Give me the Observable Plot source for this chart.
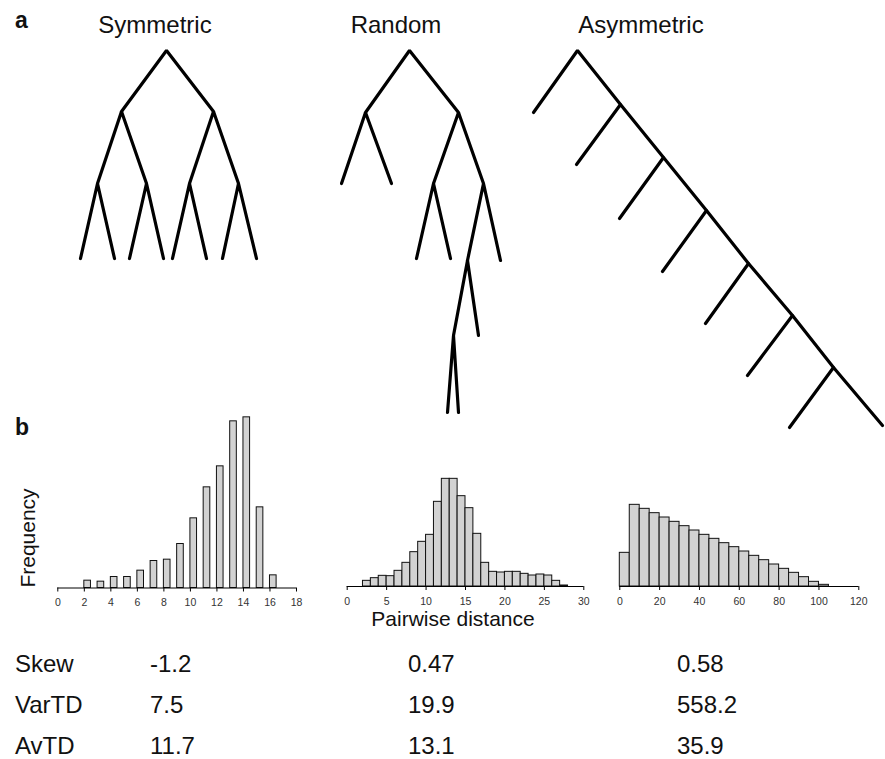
<!DOCTYPE html>
<html><head><meta charset="utf-8">
<script src="https://cdn.jsdelivr.net/npm/d3@7"></script>
<script src="https://cdn.jsdelivr.net/npm/@observablehq/plot@0.6"></script>
<style>
html,body{margin:0;padding:0;background:#fff;}
#fig{position:relative;width:885px;height:759px;overflow:hidden;background:#fff;font-family:"Liberation Sans",Arial,Helvetica,sans-serif;}
#fig > svg{position:absolute;max-width:none !important;}
</style></head><body><div id="fig"></div>
<script>
// ---------- Tree data: [id, parent, x, depth] in branch units (depth grows downward from root)
const symmetricNodes = [
  ["r", null, 0, 0],
  ["a", "r", -4.5, 6.1], ["b", "r", 4.7, 6.1],
  ["aa", "a", -6.9, 13.3], ["ab", "a", -2.0, 13.3], ["ba", "b", 2.3, 13.3], ["bb", "b", 7.2, 13.3],
  ["aa1", "aa", -8.6, 20.8], ["aa2", "aa", -5.2, 20.8], ["ab1", "ab", -3.7, 20.8], ["ab2", "ab", -0.3, 20.8],
  ["ba1", "ba", 0.6, 20.8], ["ba2", "ba", 4.0, 20.8], ["bb1", "bb", 5.6, 20.8], ["bb2", "bb", 9.0, 20.8]
];
const randomNodes = [
  ["r", null, 0, 0],
  ["a", "r", -4.4, 6.2], ["b", "r", 4.9, 6.2],
  ["a1", "a", -6.8, 13.3], ["a2", "a", -1.8, 13.3],
  ["ba", "b", 2.4, 13.3], ["bb", "b", 7.4, 13.3],
  ["ba1", "ba", 0.7, 20.8], ["ba2", "ba", 4.1, 20.8],
  ["bba", "bb", 5.8, 21.0], ["bb2", "bb", 9.1, 21.0],
  ["bbaa", "bba", 4.4, 28.5], ["bba2", "bba", 6.9, 28.5],
  ["bbaa1", "bbaa", 3.8, 36.2], ["bbaa2", "bbaa", 4.9, 36.2]
];
const asymmetricNodes = [
  ["r", null, 0, 0],
  ["t0", "r", -4.4, 6.2], ["s1", "r", 4.3, 5.4],
  ["t1", "s1", -0.1, 11.4], ["s2", "s1", 8.6, 10.7],
  ["t2", "s2", 4.2, 16.8], ["s3", "s2", 12.9, 16.0],
  ["t3", "s3", 8.5, 22.1], ["s4", "s3", 17.1, 21.3],
  ["t4", "s4", 12.8, 27.3], ["s5", "s4", 21.5, 26.5],
  ["t5", "s5", 17.0, 32.5], ["s6", "s5", 25.6, 31.7],
  ["t6", "s6", 21.2, 37.7], ["t7", "s6", 30.5, 37.5]
];
const treeNames = ["Symmetric", "Random", "Asymmetric"];

// ---------- Histogram data
const symDistance = [2, 3, 4, 5, 6, 7, 8, 9, 10, 11, 12, 13, 14, 15, 16];
const symFrequency = [22, 19, 33, 33, 52, 81, 85, 132, 209, 302, 365, 500, 512, 242, 38];
const symBarWidth = 0.5;
const symTicks = [0, 2, 4, 6, 8, 10, 12, 14, 16, 18];

const randDistance = [2, 3, 4, 5, 6, 7, 8, 9, 10, 11, 12, 13, 14, 15, 16, 17, 18, 19, 20, 21, 22, 23, 24, 25, 26, 27];
const randFrequency = [17, 25, 32, 31, 47, 71, 103, 134, 155, 254, 323, 323, 271, 235, 158, 71, 44, 42, 44, 44, 38, 33, 36, 33, 17, 3];
const randBarWidth = 1;
const randTicks = [0, 5, 10, 15, 20, 25, 30];

const asymDistance = [0, 5, 10, 15, 20, 25, 30, 35, 40, 45, 50, 55, 60, 65, 70, 75, 80, 85, 90, 95, 100];
const asymFrequency = [101, 245, 233, 220, 207, 194, 181, 168, 155, 143, 130, 118, 105, 92, 79, 66, 53, 41, 28, 14, 5];
const asymBarWidth = 5;
const asymTicks = [0, 20, 40, 60, 80, 100, 120];

// ---------- Statistics table
const statNames = ["Skew", "VarTD", "AvTD"];
const skewValues = ["-1.2", "0.47", "0.58"];
const varTDValues = ["7.5", "19.9", "558.2"];
const avTDValues = ["11.7", "13.1", "35.9"];

const fig = document.getElementById("fig");
const FONT = '"Liberation Sans",Arial,Helvetica,sans-serif';

// ---------- Trees
function treePlot(rows, rootX, rootY) {
  const nodes = rows.map(([id, parent, x, y]) => ({id, parent, x, y}));
  const pts = [];
  for (const n of nodes) {
    const kids = nodes.filter(c => c.parent === n.id).sort((a, b) => a.x - b.x);
    if (kids.length === 2) {
      pts.push({g: n.id, x: kids[0].x, y: kids[0].y});
      pts.push({g: n.id, x: n.x, y: n.y});
      pts.push({g: n.id, x: kids[1].x, y: kids[1].y});
    }
  }
  const k = 10, pad = 1;
  const x0 = d3.min(nodes, d => d.x) - pad, x1 = d3.max(nodes, d => d.x) + pad;
  const y0 = -pad, y1 = d3.max(nodes, d => d.y) + pad;
  const svg = Plot.plot({
    width: (x1 - x0) * k, height: (y1 - y0) * k, margin: 0,
    x: {domain: [x0, x1], axis: null},
    y: {domain: [y0, y1], reverse: true, axis: null},
    marks: [
      Plot.line(pts, {x: "x", y: "y", z: "g", stroke: "#000", strokeWidth: 3.2, strokeLinejoin: "miter"})
    ]
  });
  svg.style.left = (rootX + x0 * k) + "px";
  svg.style.top = (rootY + y0 * k) + "px";
  fig.appendChild(svg);
}
treePlot(symmetricNodes, 166, 50);
treePlot(randomNodes, 409, 50);
treePlot(asymmetricNodes, 577, 50);

// ---------- Histograms
function histPlot(dist, freq, bw, ticks, left, width, zeroX, maxX, baseline) {
  const bins = dist.map((d, i) => ({x1: d, x2: d + bw, f: freq[i]}));
  const top = 400, height = 230;
  const yMax = 520;
  const mb = top + height - baseline;
  const mt = height - mb - yMax / 3;
  const svg = Plot.plot({
    width, height,
    marginLeft: zeroX - left, marginRight: left + width - maxX,
    marginTop: mt, marginBottom: mb,
    style: {fontFamily: FONT, fontSize: "10px", color: "#333", background: "transparent"},
    x: {domain: [ticks[0], ticks[ticks.length - 1]]},
    y: {domain: [0, yMax], axis: null},
    marks: [
      Plot.rectY(bins, {x1: "x1", x2: "x2", y: "f", fill: "#d2d2d2", stroke: "#111", strokeWidth: 1}),
      Plot.ruleY([0], {stroke: "#000", strokeWidth: 1}),
      Plot.axisX({ticks, tickSize: 4, tickPadding: 7, label: null, stroke: "#000", fontSize: 10.5})
    ]
  });
  svg.style.left = left + "px";
  svg.style.top = top + "px";
  fig.appendChild(svg);
}
histPlot(symDistance, symFrequency, symBarWidth, symTicks, 0, 310, 57.3, 296, 587.5);
histPlot(randDistance, randFrequency, randBarWidth, randTicks, 310, 290, 346.7, 583.3, 586);
histPlot(asymDistance, asymFrequency, asymBarWidth, asymTicks, 600, 285, 619.3, 858.3, 586);

// ---------- Text overlay
const ov = d3.select(fig).append("svg")
  .attr("width", 885).attr("height", 759)
  .style("left", "0px").style("top", "0px").style("pointer-events", "none")
  .attr("font-family", FONT).attr("fill", "#111");

ov.selectAll("text.panel").data([["a", 28], ["b", 435]]).join("text")
  .attr("x", 15).attr("y", d => d[1]).attr("font-size", 23).attr("font-weight", "bold").text(d => d[0]);

const titleCenters = [155, 396, 641];
ov.selectAll("text.title").data(treeNames).join("text")
  .attr("x", (d, i) => titleCenters[i]).attr("y", 33).attr("text-anchor", "middle")
  .attr("font-size", 24).text(d => d);

ov.append("text").attr("transform", "translate(35,538) rotate(-90)")
  .attr("text-anchor", "middle").attr("font-size", 21).text("Frequency");
ov.append("text").attr("x", 453).attr("y", 626)
  .attr("text-anchor", "middle").attr("font-size", 21).text("Pairwise distance");

const rowsY = [672, 713, 754];
const colX = [150, 408, 677];
const tableRows = [skewValues, varTDValues, avTDValues];
statNames.forEach((name, r) => {
  ov.append("text").attr("x", 15).attr("y", rowsY[r]).attr("font-size", 24).text(name);
  tableRows[r].forEach((v, c) => {
    ov.append("text").attr("x", colX[c]).attr("y", rowsY[r]).attr("font-size", 24).text(v);
  });
});
</script></body></html>
